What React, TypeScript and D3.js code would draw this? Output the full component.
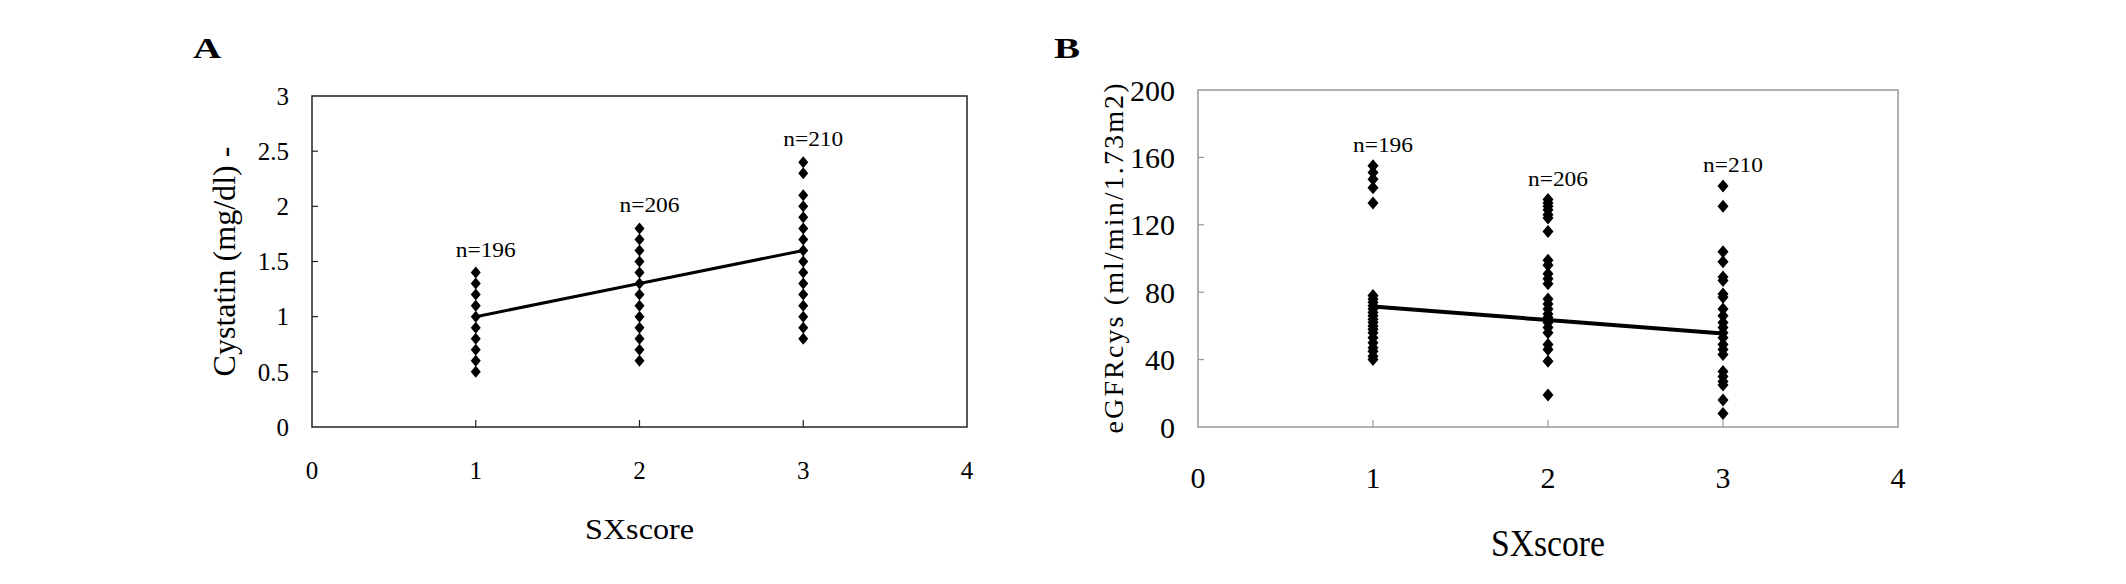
import React from "react";
import * as d3 from "d3";

// ---------- data ----------
const scores = [1, 2, 3];
const xTickValues = [0, 1, 2, 3, 4];
const nLabels = ["n=196", "n=206", "n=210"];

// Panel A: Cystatin (mg/dl)
const cystatinScore1 = [0.5, 0.6, 0.7, 0.8, 0.9, 1.0, 1.1, 1.2, 1.3, 1.4];
const cystatinScore2 = [0.6, 0.7, 0.8, 0.9, 1.0, 1.1, 1.2, 1.3, 1.4, 1.5, 1.6, 1.7, 1.8];
const cystatinScore3 = [0.8, 0.9, 1.0, 1.1, 1.2, 1.3, 1.4, 1.5, 1.6, 1.7, 1.8, 1.9, 2.0, 2.1, 2.3, 2.4];
const cystatinFit = [1.0, 1.3, 1.6];
const cystatinTicks = [0, 0.5, 1, 1.5, 2, 2.5, 3];

// Panel B: eGFRcys (ml/min/1.73m2)
const egfrScore1 = [155, 151, 147, 142, 133, 78, 76, 74, 72, 70, 68, 66, 64, 62, 60, 58, 56, 53, 50, 47, 45, 42, 40];
const egfrScore2 = [135, 133, 131, 129, 126, 124, 116, 99, 96, 91, 88, 85, 76, 73, 70, 67, 65, 62, 59, 56, 49, 46, 39, 19];
const egfrScore3 = [143, 131, 104, 98, 89, 87, 79, 77, 70, 66, 62, 59, 56, 53, 49, 46, 43, 33, 30, 27, 25, 16, 8];
const egfrFit = [71.5, 63.5, 55.5];
const egfrTicks = [0, 40, 80, 120, 160, 200];

const FONT = "'Liberation Serif', 'Times New Roman', serif";

type PanelProps = {
  letter: string;
  letterX: number;
  left: number;
  right: number;
  top: number;
  bottom: number;
  yMax: number;
  yTicks: number[];
  series: number[][];
  fit: number[];
  yLabel: string;
  yLabelX: number;
  yLabelLen: number;
  yLabelSize: number;
  tickSize: number;
  xTickBaseline: number;
  xTitleBaseline: number;
  xTitleSize: number;
  xTitleLen: number;
  frameColor: string;
  dHalfW: number;
  dHalfH: number;
  lineWidth: number;
  labelDx: number;
  labelDy: number;
};

function Panel(p: PanelProps) {
  const x = d3.scaleLinear().domain([0, 4]).range([p.left, p.right]);
  const y = d3.scaleLinear().domain([0, p.yMax]).range([p.bottom, p.top]);
  const diamond = `M0,${-p.dHalfH}L${p.dHalfW},0L0,${p.dHalfH}L${-p.dHalfW},0Z`;
  const line = d3
    .line<number>()
    .x((_, i) => x(scores[i]))
    .y((d) => y(d));
  const cy = (p.top + p.bottom) / 2;
  return (
    <g fontFamily={FONT} fill="#000">
      <text transform={`translate(${p.letterX},58) scale(1.3,1)`} fontSize={30} fontWeight="bold">
        {p.letter}
      </text>
      <rect
        x={p.left}
        y={p.top}
        width={p.right - p.left}
        height={p.bottom - p.top}
        fill="none"
        stroke={p.frameColor}
        strokeWidth={1.5}
      />
      {p.yTicks.map((t) => (
        <g key={"yt" + t}>
          {t > 0 && t < p.yMax && (
            <line x1={p.left} x2={p.left + 6} y1={y(t)} y2={y(t)} stroke={p.frameColor} strokeWidth={1.2} />
          )}
          <text x={p.left - 23} y={y(t)} dy="0.35em" textAnchor="end" fontSize={p.tickSize}>
            {t}
          </text>
        </g>
      ))}
      {xTickValues.map((t) => (
        <g key={"xt" + t}>
          {t > 0 && t < 4 && (
            <line x1={x(t)} x2={x(t)} y1={p.bottom} y2={p.bottom - 7} stroke={p.frameColor} strokeWidth={1.2} />
          )}
          <text x={x(t)} y={p.xTickBaseline} textAnchor="middle" fontSize={p.tickSize}>
            {t}
          </text>
        </g>
      ))}
      <text
        x={(p.left + p.right) / 2}
        y={p.xTitleBaseline}
        textAnchor="middle"
        fontSize={p.xTitleSize}
        textLength={p.xTitleLen}
        lengthAdjust="spacingAndGlyphs"
      >
        SXscore
      </text>
      <text
        transform={`translate(${p.yLabelX},${cy}) rotate(-90)`}
        textAnchor="middle"
        fontSize={p.yLabelSize}
        textLength={p.yLabelLen}
        lengthAdjust="spacing"
      >
        {p.yLabel}
      </text>
      <path d={line(p.fit) || ""} fill="none" stroke="#000" strokeWidth={p.lineWidth} />
      {p.series.map((vals, i) =>
        vals.map((v, j) => (
          <path key={`m${i}-${j}`} d={diamond} transform={`translate(${x(scores[i])},${y(v)})`} fill="#000" />
        ))
      )}
      {p.series.map((vals, i) => (
        <text
          key={"n" + i}
          x={x(scores[i]) + p.labelDx}
          y={y(d3.max(vals) as number) - p.labelDy}
          textAnchor="middle"
          fontSize={21}
          textLength={60}
          lengthAdjust="spacingAndGlyphs"
        >
          {nLabels[i]}
        </text>
      ))}
    </g>
  );
}

export default function App() {
  return (
    <svg
      width={2126}
      height={584}
      viewBox="0 0 2126 584"
      style={{ position: "absolute", left: 0, top: 0, background: "#fff" }}
    >
      <rect x={0} y={0} width={2126} height={584} fill="#fff" />
      <Panel
        letter="A"
        letterX={193}
        left={312}
        right={967}
        top={96}
        bottom={427}
        yMax={3}
        yTicks={cystatinTicks}
        series={[cystatinScore1, cystatinScore2, cystatinScore3]}
        fit={cystatinFit}
        yLabel="Cystatin (mg/dl) -"
        yLabelX={235}
        yLabelLen={230}
        yLabelSize={32}
        tickSize={25}
        xTickBaseline={479}
        xTitleBaseline={539}
        xTitleSize={30}
        xTitleLen={109}
        frameColor="#222"
        dHalfW={5}
        dHalfH={6}
        lineWidth={3}
        labelDx={10}
        labelDy={16}
      />
      <Panel
        letter="B"
        letterX={1054}
        left={1198}
        right={1898}
        top={90}
        bottom={427}
        yMax={200}
        yTicks={egfrTicks}
        series={[egfrScore1, egfrScore2, egfrScore3]}
        fit={egfrFit}
        yLabel="eGFRcys (ml/min/1.73m2)"
        yLabelX={1123}
        yLabelLen={350}
        yLabelSize={28}
        tickSize={30}
        xTickBaseline={488}
        xTitleBaseline={556}
        xTitleSize={37}
        xTitleLen={114}
        frameColor="#999"
        dHalfW={5.5}
        dHalfH={6.5}
        lineWidth={4}
        labelDx={10}
        labelDy={14}
      />
    </svg>
  );
}
